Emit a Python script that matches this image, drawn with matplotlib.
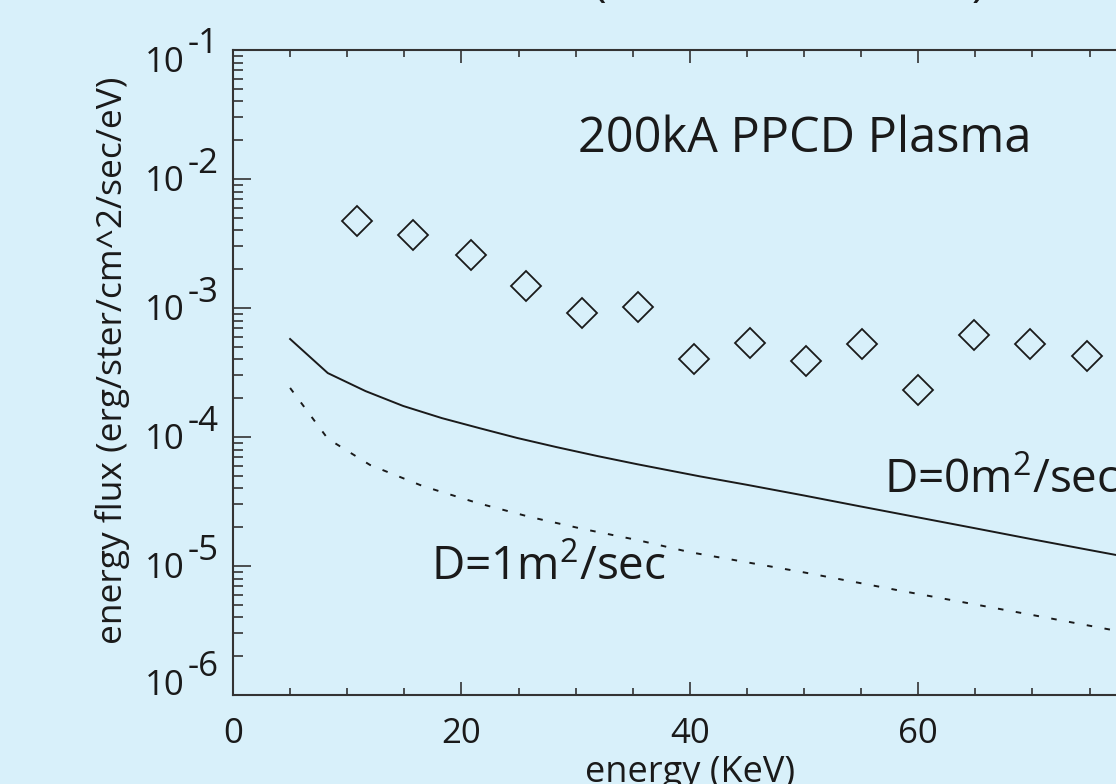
import matplotlib
matplotlib.use("Agg")
import matplotlib.pyplot as plt
from matplotlib.ticker import LogLocator, MultipleLocator, NullFormatter

# ---------------- data ----------------
diamond_energy = [10.9, 15.8, 20.8, 25.7, 30.6, 35.5, 40.4, 45.3, 50.2, 55.1, 60.0, 64.9, 69.8, 74.8]
diamond_flux = [4.72e-3, 3.68e-3, 2.58e-3, 1.48e-3, 9.15e-4, 1.02e-3, 4.03e-4, 5.36e-4,
                3.88e-4, 5.26e-4, 2.31e-4, 6.18e-4, 5.26e-4, 4.25e-4]

d0_energy = [5.0, 8.3, 11.6, 14.9, 18.3, 21.6, 24.9, 28.3, 31.9, 35.4, 40.9,
             45, 50, 55, 60, 65, 70, 75, 80]
d0_flux = [5.75e-4, 3.13e-4, 2.27e-4, 1.74e-4, 1.40e-4, 1.17e-4, 9.82e-5, 8.36e-5,
           7.12e-5, 6.15e-5, 4.95e-5, 4.26e-5, 3.52e-5, 2.89e-5, 2.38e-5, 1.96e-5,
           1.61e-5, 1.33e-5, 1.10e-5]

d1_energy = [5.0, 8.3, 12.0, 16.6, 21.4, 26.0, 30.6, 35.4, 40.0, 50.0, 58.1, 70.0, 77.0, 80.0]
d1_flux = [2.40e-4, 9.7e-5, 6.07e-5, 4.17e-5, 3.08e-5, 2.40e-5, 1.94e-5, 1.59e-5,
           1.28e-5, 8.92e-6, 6.52e-6, 4.17e-6, 3.19e-6, 2.85e-6]

y_exponents = [-1, -2, -3, -4, -5, -6]
x_ticks = [0, 20, 40, 60, 80]

label_d0 = "D=0m$^{2}$/sec"
label_d1 = "D=1m$^{2}$/sec"
label_plasma = "200kA PPCD Plasma"
x_label = "energy (KeV)"
y_label = "energy flux (erg/ster/cm^2/sec/eV)"

# ---------------- style ----------------
BG = "#d8f0fa"
INK = "#1a1a1a"
FONT = "Open Sans"
plt.rcParams["font.family"] = [FONT, "DejaVu Sans"]
plt.rcParams["mathtext.fontset"] = "custom"
plt.rcParams["mathtext.rm"] = FONT
plt.rcParams["mathtext.it"] = FONT
plt.rcParams["mathtext.bf"] = FONT
plt.rcParams["lines.scale_dashes"] = False

W, H = 1116, 784
fig = plt.figure(figsize=(W / 100, H / 100), dpi=100, facecolor=BG)

x0_px, x1_px = 233, 233 + 80 * 11.42
y_top_px, y_bot_px = 50, 695
ax = fig.add_axes([x0_px / W, 1 - y_bot_px / H, (x1_px - x0_px) / W, (y_bot_px - y_top_px) / H])
ax.set_facecolor(BG)

ax.set_xlim(0, 80)
ax.set_yscale("log")
ax.set_ylim(1e-6, 1e-1)

# series
ax.plot(diamond_energy, diamond_flux, linestyle="none", marker="D", markersize=15,
        markerfacecolor="none", markeredgecolor=INK, markeredgewidth=1.3, clip_on=False)
ax.plot(d0_energy, d0_flux, color=INK, linewidth=1.4)
ax.plot(d1_energy, d1_flux, color=INK, linewidth=1.4, dashes=(4.0, 9.0))

# spines / ticks
for s in ax.spines.values():
    s.set_color("#333333")
    s.set_linewidth(1.5)

ax.xaxis.set_minor_locator(MultipleLocator(5))
ax.set_xticks(x_ticks)
ax.set_xticklabels([str(v) for v in x_ticks])
ax.yaxis.set_major_locator(LogLocator(base=10, numticks=20))
ax.yaxis.set_minor_locator(LogLocator(base=10, subs=range(2, 10), numticks=20))
ax.yaxis.set_minor_formatter(NullFormatter())

ax.tick_params(axis="x", which="major", direction="in", length=9.4, width=1.2,
               colors="#333333", labelcolor=INK, labelsize=25, pad=16, top=True)
ax.tick_params(axis="x", which="minor", direction="in", length=5, width=1.2,
               colors="#333333", top=True)
ax.tick_params(axis="y", which="major", direction="in", length=13, width=1.2,
               colors="#333333", labelleft=False, right=True)
ax.tick_params(axis="y", which="minor", direction="in", length=7, width=1.2,
               colors="#333333", right=True)

# manual y tick labels (IDL style: full-size raised exponent)
for e in y_exponents:
    dy = 0.0
    if e == y_exponents[0]:
        dy = -9.5
    elif e == y_exponents[-1]:
        dy = 12.5
    ax.annotate("10", xy=(0, 10.0 ** e), xycoords=("axes fraction", "data"),
                xytext=(-48, -12.5 + dy), textcoords="offset pixels",
                ha="right", va="baseline", fontsize=25, color=INK, annotation_clip=False)
    ax.annotate(f"-{abs(e)}", xy=(0, 10.0 ** e), xycoords=("axes fraction", "data"),
                xytext=(-45, 6 + dy), textcoords="offset pixels",
                ha="left", va="baseline", fontsize=25, color=INK, annotation_clip=False)

# axis labels
fig.text(112 / W, 1 - 360 / H, y_label, rotation=90, ha="center", va="center",
         fontsize=25.5, color=INK)
fig.text(690 / W, (H - 782) / H, x_label, ha="center", va="baseline",
         fontsize=26, color=INK)

# annotations inside the plot
fig.text(578 / W, 1 - 152 / H, label_plasma, ha="left", va="baseline", fontsize=35, color=INK)
fig.text(884 / W, 1 - 493 / H, label_d0, ha="left", va="baseline", fontsize=33, color=INK)
fig.text(431 / W, 1 - 580 / H, label_d1, ha="left", va="baseline", fontsize=33, color=INK)

# title, mostly outside the visible area (only the parentheses show)
fig.text(592 / W, 1 + 4 / H, "(", ha="left", va="baseline", fontsize=33, color=INK)
fig.text(985 / W, 1 + 4 / H, ")", ha="right", va="baseline", fontsize=33, color=INK)

fig.savefig("out.png", dpi=100, facecolor=BG)
